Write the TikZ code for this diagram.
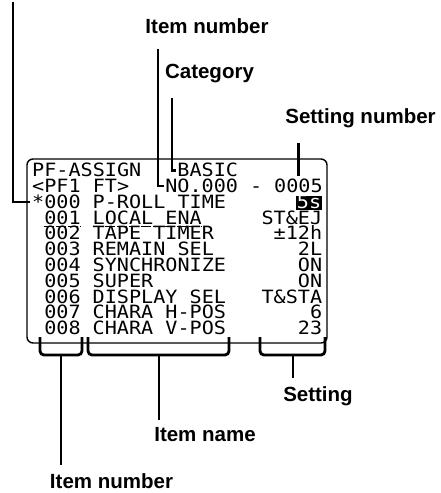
\documentclass[tikz,border=0pt]{standalone}
\usepackage{fontspec}
\setmainfont{Liberation Sans}
\newfontfamily\lcdfont{DejaVu Sans Mono}[FakeStretch=1.1]
\usetikzlibrary{calc}

\tikzset{
  callout/.style={font=\fontsize{20.5}{24}\selectfont\bfseries, inner sep=0pt},
  lcd/.style={font=\fontsize{18.3}{20}\lcdfont, inner sep=0pt, anchor=base west,
    text height=13pt, text depth=0.5pt},
  lcdval/.style={lcd, anchor=base east},
  lead/.style={line width=2.4pt},
  bracket/.style={line width=2.8pt, rounded corners=4pt},
  panel/.style={line width=1.4pt, rounded corners=6pt},
  uline/.style={line width=1.1pt, dash pattern=on 10pt off 2.1pt},
}

\begin{document}
\begin{tikzpicture}[x=1pt, y=-1pt]
  \useasboundingbox (0,0) rectangle (441,493);

  % ---- LCD panel ----
  \draw[panel] (27,159) rectangle (327,343);

  % ---- header rows ----
  \node[lcd] (hdr)    at (32,176.7)    {PF-ASSIGN};
  \node[lcd] (cat)    at (177.2,176.7) {BASIC};
  \node[lcd] (pf)     at (32,192.5)    {<PF1 FT>};
  \node[lcd] (itemNo) at (165.1,192.5) {NO.000};
  \node[lcd] (dash)   at (249.8,192.5) {-};
  \node[lcd] (setNo)  at (274,192.5)   {0005};

  % ---- item rows ----
  \node[lcd] (no0)   at (32,208.3)   {*000};
  \node[lcd] (name0) at (92.5,208.3) {P-ROLL TIME};
  \node[lcdval, fill=black, text=white, inner sep=1pt, text height=11pt] (val0) at (322.4,208.3) {5s};

  \foreach \num/\name/\val [count=\r] in {001/LOCAL ENA/ST\&EJ, 002/TAPE TIMER/±12h,
      003/REMAIN SEL/2L, 004/SYNCHRONIZE/ON, 005/SUPER/ON, 006/DISPLAY SEL/T\&STA,
      007/CHARA H-POS/6, 008/CHARA V-POS/23}{
    \pgfmathsetmacro{\by}{208.3+15.8*\r}
    \node[lcd]    (no\r)   at (44.1,\by)  {\num};
    \node[lcd]    (name\r) at (92.5,\by)  {\name};
    \node[lcdval] (val\r)  at (322.4,\by) {\val};
  }

  % cursor underline
  \draw[uline] ([yshift=-2pt]no1.base west) -- ([yshift=-2pt]no1.base east);
  \draw[uline] ([yshift=-2pt]name1.base west) -- ([yshift=-2pt]name1.base east);

  % ---- callouts ----
  \node[callout, outer sep=15pt] (lblItem)  at (207,26)     {Item number};
  \node[callout, outer sep=15pt] (lblCat)   at (209.5,73.5) {Category};
  \node[callout, outer sep=15pt] (lblSetNo) at (360.5,118)  {Setting number};
  \node[callout, outer sep=8pt]  (lblSet)   at (318,396)    {Setting};
  \node[callout, outer sep=8pt]  (lblName)  at (205,435)    {Item name};
  \node[callout, outer sep=8pt]  (lblNoBot) at (111.5,481)  {Item number};

  % ---- leaders from the top ----
  \coordinate (topEnd) at (13,2);
  \draw[lead, shorten >=2pt] (topEnd) |- (no0.west);
  \coordinate (kItem) at ([xshift=-7pt]itemNo.west);
  \draw[lead, shorten >=1.5pt] (lblItem.south -| kItem) |- (itemNo.west);
  \coordinate (kCat) at ([xshift=-5pt]cat.west);
  \draw[lead, shorten >=1.5pt] (lblCat.south -| kCat) |- (cat.west);
  \draw[lead] (lblSetNo.south -| setNo.north) -- ([yshift=3pt]setNo.north);

  % ---- brackets below ----
  \draw[bracket] (40,337) -- (40,355) -- (82,355) -- (82,337);
  \draw[bracket] (88,337) -- (88,355) -- (229,355) -- (229,337);
  \draw[bracket] (260,337) -- (260,355) -- (325,355) -- (325,337);
  \coordinate (bNo)   at (61,355);
  \coordinate (bName) at (159,355);
  \coordinate (bSet)  at (293,355);
  \draw[lead] (bNo)   -- (bNo |- lblNoBot.north);
  \draw[lead] (bName) -- (bName |- lblName.north);
  \draw[lead] (bSet)  -- (bSet |- lblSet.north);
\end{tikzpicture}
\end{document}
